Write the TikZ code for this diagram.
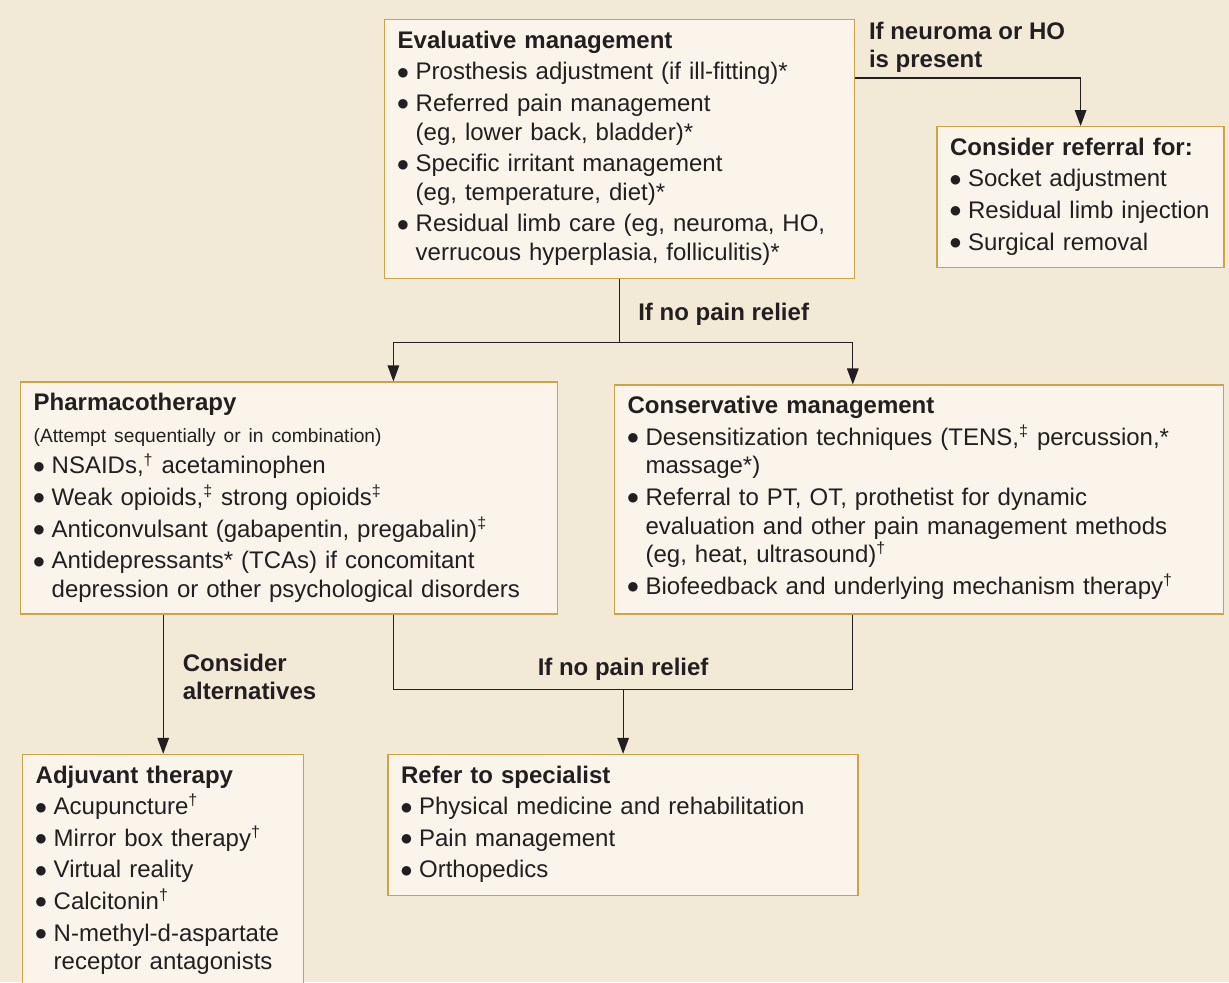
\documentclass[tikz,border=0pt]{standalone}
\usepackage{fontspec}
\setmainfont{Liberation Sans}
\newfontfamily\dotfont{DejaVu Sans}
\usepackage{tikz}
\usetikzlibrary{arrows.meta,positioning}
\definecolor{fbeige}{RGB}{243,233,215}
\definecolor{fpaper}{RGB}{250,244,234}
\definecolor{fgold}{RGB}{205,163,70}
\definecolor{fink}{RGB}{35,31,32}
\newcommand{\itm}{\par\vspace{1.5pt}\noindent\hangindent=9pt\hangafter=1%
  \makebox[9pt][l]{\raisebox{1.8pt}{\dotfont\fontsize{6.2}{6}\selectfont ●}}}
\newcommand{\sy}[1]{\textsuperscript{#1}}

\begin{document}
\begin{tikzpicture}[
  node distance=10pt,
  box/.style={
    draw=fgold,
    fill=fpaper,
    line width=0.7pt,
    anchor=north west,
    align=left,
    inner xsep=6.5pt,
    inner ysep=5.25pt,
    text height=9pt,
    text=fink,
    font=\fontsize{12}{14.3}\selectfont
  },
  lbl/.style={
    font=\fontsize{12}{14}\selectfont\bfseries,
    align=left,
    inner sep=0pt,
    text=fink
  },
  link/.style={
    draw=fink,
    line width=0.6pt
  },
  arr/.style={
    link,
    -{Triangle[length=8pt,width=5.8pt]}
  }
]

\path[use as bounding box, fill=fbeige] (0,0) rectangle (614.5pt,-491pt);

\node[box, text width=222pt, text depth=110pt] (eval) at (192pt,-9.5pt)
{
\textbf{Evaluative management}
\itm Prosthesis adjustment (if ill-fitting)*
\itm Referred pain management\newline(eg, lower back, bladder)*
\itm Specific irritant management\newline(eg, temperature, diet)*
\itm Residual limb care (eg, neuroma, HO,\newline verrucous hyperplasia, folliculitis)*\par
};

\node[box, text width=130.5pt, text depth=51pt, below right=53.5pt and 40.5pt of eval.north east] (refl)
{
\textbf{Consider referral for:}
\itm Socket adjustment
\itm Residual limb injection
\itm Surgical removal\par
};

\node[box, text width=255.25pt, text depth=96.5pt, below left=51pt and 182pt of eval.south west, anchor=north west] (pharm)
{
\textbf{Pharmacotherapy}\par\vspace{1.5pt}\noindent
{\fontsize{9.6}{14.3}\selectfont (Attempt sequentially or in combination)}
\itm NSAIDs,\sy{†} acetaminophen
\itm Weak opioids,\sy{‡} strong opioids\sy{‡}
\itm Anticonvulsant (gabapentin, pregabalin)\sy{‡}
\itm Antidepressants* (TCAs) if concomitant\newline depression or other psychological disorders\par
};

\node[box, text width=291.5pt, text depth=95pt, below right=1.5pt and 28pt of pharm.north east] (cons)
{
\textbf{Conservative management}
\itm Desensitization techniques (TENS,\sy{‡} percussion,*\newline massage*)
\itm Referral to PT, OT, prothetist for dynamic\newline evaluation and other pain management methods\newline(eg, heat, ultrasound)\sy{†}
\itm Biofeedback and underlying mechanism therapy\sy{†}\par
};

\node[box, text width=127.5pt, text depth=130pt, below right=69.5pt and 1pt of pharm.south west] (adj)
{
\textbf{Adjuvant therapy}
\itm Acupuncture\sy{†}
\itm Mirror box therapy\sy{†}
\itm Virtual reality
\itm Calcitonin\sy{†}
\itm N-methyl-d-aspartate\newline receptor antagonists\par
};

\node[box, text width=222pt, text depth=51pt, right=41.5pt of adj.north east, anchor=north west] (refer)
{
\textbf{Refer to specialist}
\itm Physical medicine and rehabilitation
\itm Pain management
\itm Orthopedics\par
};

\coordinate[below=31.5pt of eval.south] (fork);
\coordinate[above=32pt of refer.north] (join);
\coordinate (lft) at ([xshift=3pt]refer.north west);
\coordinate (rgt) at ([xshift=-3pt]refer.north east);

\draw[arr] ([yshift=-29.5pt]eval.north east) -| (refl.north)
  node[lbl, pos=0, anchor=south west, xshift=6.5pt, yshift=2.25pt] {If neuroma or HO\\is present};

\draw[arr] (eval.south) -- node[lbl, right=9pt, pos=0.55] {If no pain relief} (fork) -| (lft |- pharm.north);
\draw[arr] (fork) -| (rgt |- cons.north);

\draw[arr] (adj.north |- pharm.south) -- node[lbl, right=9.5pt, pos=0.45] {Consider\\alternatives} (adj.north);

\draw[link] (lft |- pharm.south) |- (join) -| (rgt |- cons.south);
\draw[arr] (join) node[lbl, above=4.5pt] {If no pain relief} -- (refer.north);

\end{tikzpicture}
\end{document}
